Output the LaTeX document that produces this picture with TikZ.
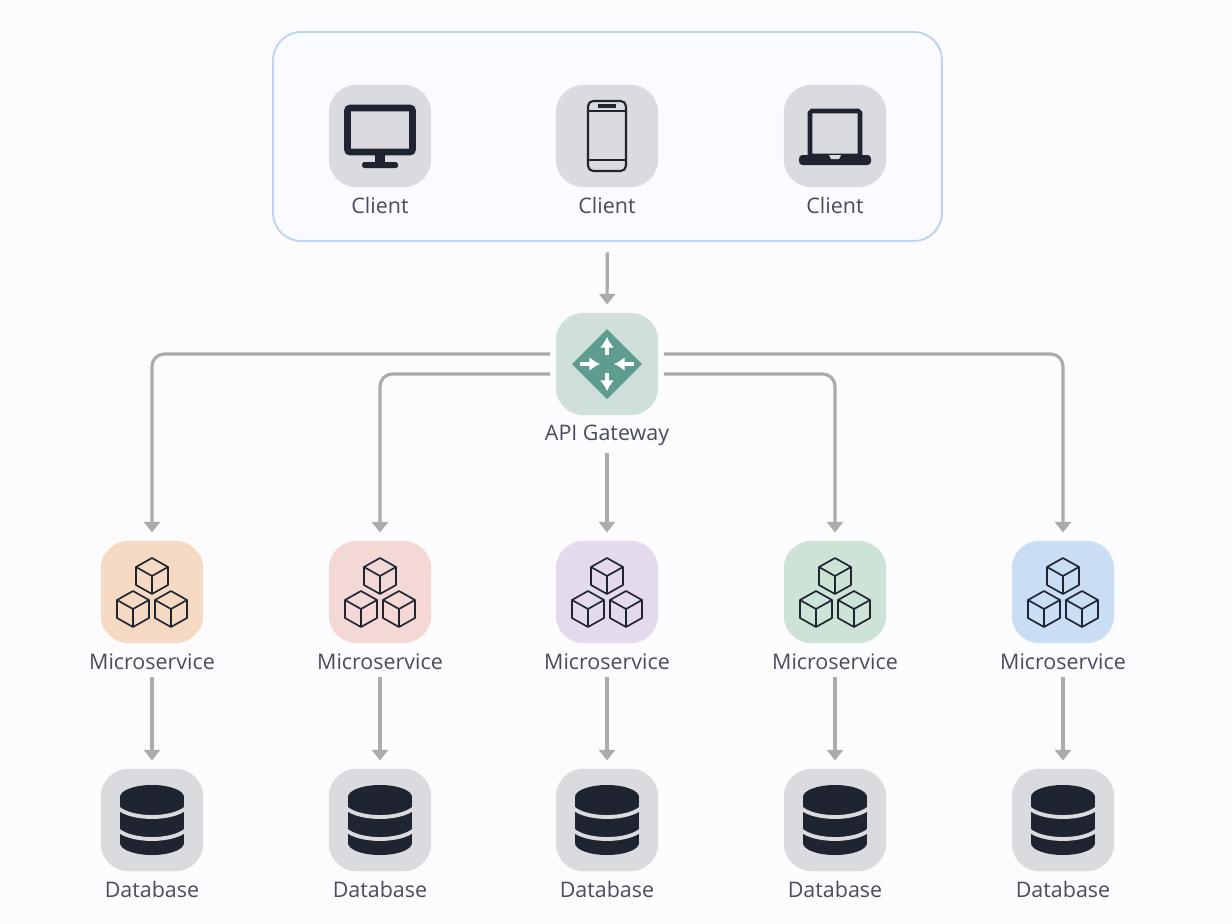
\documentclass[tikz,border=0pt]{standalone}
\usepackage{fontspec}
\setmainfont{Open Sans}
\usetikzlibrary{arrows.meta}
\definecolor{paper}{HTML}{FCFBFE}
\definecolor{ink}{HTML}{1E2430}
\definecolor{textgrey}{HTML}{484C5C}
\definecolor{flowgrey}{HTML}{ABABAE}
\definecolor{boxblue}{HTML}{BDD4F2}
\definecolor{boxfill}{HTML}{F9FBFF}
\definecolor{tilegrey}{HTML}{DADBDE}
\definecolor{tilegw}{HTML}{CFE0DC}
\definecolor{gwgreen}{HTML}{5E9C8F}
\definecolor{msorange}{HTML}{F5D9C2}
\definecolor{msrose}{HTML}{F3D8D5}
\definecolor{mspurple}{HTML}{E3DAEE}
\definecolor{msgreen}{HTML}{CCE3D5}
\definecolor{msblue}{HTML}{C9DDF5}
\tikzset{
  tile/.style={minimum size=2.05cm,inner sep=0pt,rounded corners=.56cm},
  lbl/.style={font=\fontsize{12.2pt}{14pt}\selectfont,text=textgrey,inner sep=1pt},
  flow/.style={draw=flowgrey,line width=1.8pt,-{Triangle[width=9pt,length=6pt]},shorten >=4.5pt,shorten <=3pt},
  pics/cube/.style={code={
    \draw[ink,line width=.95pt,line join=round] (0,-18)--(16,-9)--(16,9)--(0,18)--(-16,9)--(-16,-9)--cycle
      (-16,-9)--(0,0)--(16,-9) (0,0)--(0,18);
  }},
  pics/cubes/.style={code={
    \pic at (0,-16) {cube};
    \pic at (-19,17) {cube};
    \pic at (19,17) {cube};
  }},
  pics/dbstack/.style={code={
    \fill[ink] (0,-23) ellipse (32 and 12);
    \fill[ink] (0,23) ellipse (32 and 12);
    \fill[ink] (-32,-23) rectangle (32,23);
    \draw[tilegrey,line width=2.2pt] (-34,-12) .. controls (-20,0) and (20,0) .. (34,-12);
    \draw[tilegrey,line width=2.2pt] (-34,10) .. controls (-20,22) and (20,22) .. (34,10);
  }},
  pics/desktop/.style={code={
    \draw[ink,line width=3.8pt,rounded corners=1.5pt] (-32.5,-28) rectangle (32.5,16);
    \fill[ink] (-5,18) rectangle (5,28);
    \fill[ink,rounded corners=1pt] (-18,26) rectangle (18,32);
  }},
  pics/phone/.style={code={
    \draw[ink,line width=1.2pt,rounded corners=3pt] (-19,-35) rectangle (19,35);
    \draw[ink,line width=1pt] (-19,-25) -- (19,-25) (-19,24) -- (19,24);
    \fill[ink] (-9,-32) rectangle (9,-28);
  }},
  pics/laptop/.style={code={
    \draw[ink,line width=2.6pt,rounded corners=1pt] (-25,-25) rectangle (25,20);
    \fill[ink,rounded corners=2pt] (-36,19) rectangle (36,29);
    \fill[tilegrey] (-6,19) -- (6,19) -- (4,23) -- (-4,23) -- cycle;
  }},
  pics/router/.style={code={
    \fill[gwgreen] (0,-35) -- (35,0) -- (0,35) -- (-35,0) -- cycle;
    \draw[white,line width=1.8pt,-{Latex[length=6pt,width=8pt]}] (0,-9) -- (0,-27);
    \draw[white,line width=1.8pt,-{Latex[length=6pt,width=8pt]}] (0,9) -- (0,27);
    \draw[white,line width=1.8pt,-{Latex[length=6pt,width=8pt]}] (-27,0) -- (-7,0);
    \draw[white,line width=1.8pt,-{Latex[length=6pt,width=8pt]}] (27,0) -- (7,0);
  }},
}
\begin{document}
\begin{tikzpicture}[x=.02cm,y=-.02cm]
  \fill[paper] (0,0) rectangle (1232,924);
  \useasboundingbox (0,0) rectangle (1232,924);
  \node[draw=boxblue,fill=boxfill,line width=1.1pt,minimum width=13.38cm,minimum height=4.18cm,rounded corners=.56cm,inner sep=0pt] (clients) at (607.5,136.5) {};
  \foreach \i/\x/\icon in {1/380/desktop,2/607/phone,3/835/laptop} {
    \node[tile,fill=tilegrey] (cl\i) at (\x,136) {};
    \pic at (\x,136) {\icon};
    \node[lbl] (cllabel\i) at (\x,205) {Client};
  }
  \node[tile,fill=tilegw] (gw) at (607,364) {};
  \pic at (607,364) {router};
  \node[lbl] (gwlabel) at (607,435) {API Gateway};
  \foreach \i/\x/\col in {1/152/msorange,2/380/msrose,3/607/mspurple,4/835/msgreen,5/1063/msblue} {
    \node[tile,fill=\col] (ms\i) at (\x,592) {};
    \pic at (\x,592) {cubes};
    \node[lbl] (mslabel\i) at (\x,662) {Microservice};
    \node[tile,fill=tilegrey] (db\i) at (\x,820) {};
    \pic at (\x,820) {dbstack};
    \node[lbl] (dblabel\i) at (\x,889) {Database};
    \draw[flow] (mslabel\i) -- (db\i);
  }
  \draw[flow,shorten <=6pt] (clients) -- (gw);
  \draw[flow] (gwlabel) -- (ms3);
  \draw[flow,rounded corners=7pt] ([yshift=.2cm]gw.west) -| (ms1.north);
  \draw[flow,rounded corners=7pt] ([yshift=-.2cm]gw.west) -| (ms2.north);
  \draw[flow,rounded corners=7pt] ([yshift=-.2cm]gw.east) -| (ms4.north);
  \draw[flow,rounded corners=7pt] ([yshift=.2cm]gw.east) -| (ms5.north);
\end{tikzpicture}
\end{document}
